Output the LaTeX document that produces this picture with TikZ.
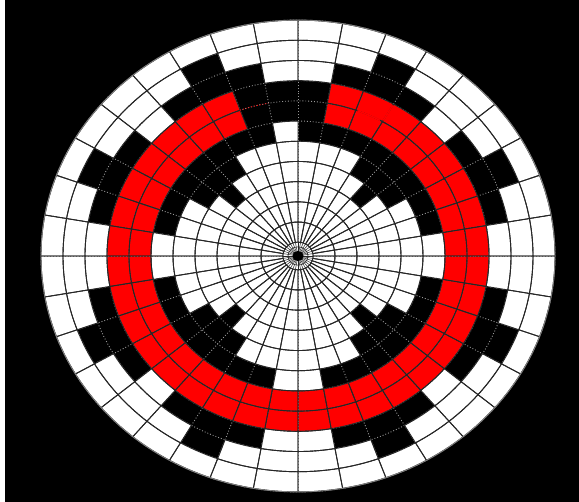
\documentclass[tikz,border=0pt]{standalone}
\begin{document}
\begin{tikzpicture}[x=1pt,y=1pt,
  wall/.style={draw=black!85,line width=0.9pt},
  griddot/.style={draw=gray!80,line width=0.9pt,dotted}]
\useasboundingbox (0,0) rectangle (579,502);
\fill[black] (0,0) rectangle (579,502);
\fill[white] (0,0) rectangle (5,502);
% ring data: 0 white, 1 black, 2 red; sector j spans 10j..10j+10 deg
\def\RA{0,0,0,0,0,0,0,0,0,0,0,0,0,0,0,0,0,0,0,0,0,0,0,0,0,0,0,0,0,0,0,0,0,0,0,0}
\def\RB{0,0,0,0,0,0,0,0,0,0,0,0,0,0,0,0,0,0,0,0,0,0,0,0,0,0,0,0,0,0,0,0,0,0,0,0}
\def\RC{0,0,0,0,0,0,0,0,0,0,0,0,0,0,0,0,0,0,0,0,0,0,0,0,0,0,0,0,0,0,0,0,0,0,0,0}
\def\RD{0,0,0,0,1,0,0,0,0, 0,0,0,0,1,0,0,0,0, 0,0,0,0,1,0,0,0,0, 0,0,0,0,1,0,0,0,0}
\def\RE{0,0,0,1,1,1,0,0,0, 0,0,0,1,1,1,0,0,0, 0,0,0,1,1,1,0,0,0, 0,0,0,1,1,1,0,0,0}
\def\RF{0,1,1,1,1,1,1,1,1, 0,1,1,1,1,1,1,1,0, 0,1,1,1,1,1,1,1,0, 0,1,1,1,1,1,1,1,0}
\def\RG{2,2,2,2,2,2,2,2,1, 1,1,2,2,2,2,2,2,2, 2,2,2,2,2,2,2,2,2, 2,2,2,2,2,2,2,2,2}
\def\RH{2,2,2,2,2,2,2,2,1, 1,1,2,2,2,2,2,2,2, 2,2,2,2,2,2,2,2,2, 2,2,2,2,2,2,2,2,2}
\def\RI{0,1,1,1,0,1,1,1,0, 0,1,1,1,0,1,1,1,0, 0,1,1,1,0,1,1,1,0, 0,1,1,1,0,1,1,1,0}
\def\RJ{0,0,1,0,0,0,1,0,0, 0,0,1,0,0,0,1,0,0, 0,0,1,0,0,0,1,0,0, 0,0,1,0,0,0,1,0,0}
\def\RK{0,0,0,0,0,0,0,0,0,0,0,0,0,0,0,0,0,0,0,0,0,0,0,0,0,0,0,0,0,0,0,0,0,0,0,0}
\begin{scope}[shift={(298,246)},yscale=0.918]
  % cell fills
  \foreach \k/\name in {1/RA,2/RB,3/RC,4/RD,5/RE,6/RF,7/RG,8/RH,9/RI,10/RJ,11/RK}{
    \edef\row{\csname\name\endcsname}
    \pgfmathsetmacro\ri{15+22*(\k-1)}
    \pgfmathsetmacro\ro{\ri+22}
    \foreach \c [count=\jj from 0] in \row {
      \pgfmathsetmacro\a{10*\jj}
      \pgfmathsetmacro\b{\a+10}
      \ifcase\c \def\col{white}\or\def\col{black}\or\def\col{red}\fi
      \fill[\col] (\a:\ri) arc[start angle=\a,end angle=\b,radius=\ri]
        -- (\b:\ro) arc[start angle=\b,end angle=\a,radius=\ro] -- cycle;
    }
  }
  % dotted grid everywhere (seen between black cells)
  \foreach \k in {0,...,11}{
    \pgfmathsetmacro\r{15+22*\k}
    \path[griddot] (0,0) circle[radius=\r];
  }
  \foreach \jj in {0,...,35}{
    \path[griddot] (10*\jj:15) -- (10*\jj:257);
  }
  % solid walls round white and red cells
  \foreach \k/\name in {1/RA,2/RB,3/RC,4/RD,5/RE,6/RF,7/RG,8/RH,9/RI,10/RJ,11/RK}{
    \edef\row{\csname\name\endcsname}
    \pgfmathsetmacro\ri{15+22*(\k-1)}
    \pgfmathsetmacro\ro{\ri+22}
    \foreach \c [count=\jj from 0] in \row {
      \ifnum\c=1\relax\else
      \pgfmathsetmacro\a{10*\jj}
      \pgfmathsetmacro\b{\a+10}
      \path[wall] (\a:\ri) arc[start angle=\a,end angle=\b,radius=\ri]
        -- (\b:\ro) arc[start angle=\b,end angle=\a,radius=\ro] -- cycle;
      \fi
    }
  }
  % open passages inside the red path
  \draw[red,line width=1.6pt] (61:169) arc[start angle=61,end angle=69.4,radius=169];
  \draw[red,line width=1.6pt] (60:170.5) -- (60:189.5);
  % red dotted trace into the black gap
  \draw[red,dotted,line width=0.9pt] (110:169) arc[start angle=110,end angle=100,radius=169];
  % centre
  \fill[white] (0,0) circle[radius=15];
  \foreach \jj in {0,...,35}{
    \draw[black!85,line width=0.5pt] (0,0) -- (10*\jj:15);
  }
  \draw[wall] (0,0) circle[radius=15];
  \draw[black!85,line width=0.6pt] (0,0) circle[radius=10];
  \fill[black] (0,0) circle[radius=5.5];
  \draw[gray,line width=0.9pt] (0,0) circle[radius=257];
\end{scope}
\end{tikzpicture}
\end{document}
